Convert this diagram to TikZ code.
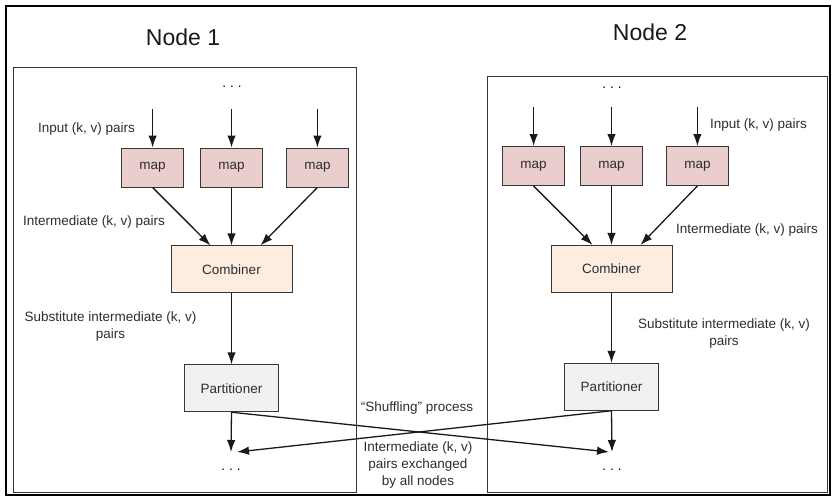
\documentclass[tikz,border=0pt]{standalone}
\usepackage{fontspec}
\setmainfont{Liberation Sans}
\usetikzlibrary{positioning,arrows.meta}

\definecolor{mapfill}{RGB}{234,205,205}
\definecolor{combfill}{RGB}{253,236,224}
\definecolor{partfill}{RGB}{241,241,241}
\definecolor{boxline}{RGB}{55,55,55}
\definecolor{txt}{RGB}{45,45,45}

\begin{document}
\begin{tikzpicture}[x=1pt, y=-1pt,
	box/.style={rectangle, draw=boxline, line width=0.9pt, inner sep=0pt, text=txt, font=\fontsize{13.5}{17}\selectfont},
	mapbox/.style={box, fill=mapfill, minimum width=62pt, minimum height=39pt},
	combbox/.style={box, fill=combfill, minimum width=121pt, minimum height=47pt},
	partbox/.style={box, fill=partfill, minimum width=94pt, minimum height=47pt},
	nodebox/.style={rectangle, draw=boxline, line width=0.9pt, inner sep=0pt},
	title/.style={font=\fontsize{23}{26}\selectfont, text=black!90, inner sep=0pt},
	lbl/.style={font=\fontsize{13.5}{17}\selectfont, text=txt, align=center, inner sep=0pt},
	dots/.style={font=\fontsize{13.5}{17}\selectfont, inner sep=0pt},
	arr/.style={-{Latex[length=12pt,width=8.5pt]}, line width=1.3pt, draw=black!90}
	]

	\useasboundingbox (0,0) rectangle (833,500);
	\draw [line width=2.5pt] (6,6) rectangle (830,495);

	% Node 1
	\node (node1box) [nodebox, minimum width=343pt, minimum height=425pt] at (184.5,279.5) {};
	\node (title1) [title] at (183,37) {Node 1};
	\node (dotstop1) [dots] at (232,87) {.\hspace{4pt}.\hspace{4pt}.};
		\node (map12) [mapbox] at (231.5,167.5) {map};
		\node (map11) [mapbox, left=16pt of map12] {map};
		\node (map13) [mapbox, right=23pt of map12] {map};
			\node (combiner1) [combbox, below=58pt of map12] {Combiner};
				\node (partitioner1) [partbox, below=71pt of combiner1] {Partitioner};
	\coordinate (out1) at (231,452);
	\node (dotsbot1) [dots] at (231,470) {.\hspace{4pt}.\hspace{4pt}.};

	\node (input1) [lbl, anchor=west] at (38,129) {Input (k, v) pairs};
	\node (inter1) [lbl, anchor=west] at (23,222) {Intermediate (k, v) pairs};
	\node (subst1) [lbl] at (110.5,326.5) {Substitute intermediate (k, v)\\pairs};

	% Node 2
	\node (node2box) [nodebox, minimum width=340pt, minimum height=416pt] at (657,284) {};
	\node (title2) [title] at (650,32) {Node 2};
	\node (dotstop2) [dots] at (612,88) {.\hspace{4pt}.\hspace{4pt}.};
		\node (map22) [mapbox] at (611.5,166) {map};
		\node (map21) [mapbox, left=15pt of map22] {map};
		\node (map23) [mapbox, right=23pt of map22] {map};
			\node (combiner2) [combbox, below=59pt of map22] {Combiner};
				\node (partitioner2) [partbox, below=70pt of combiner2] {Partitioner};
	\coordinate (out2) at (612,452);
	\node (dotsbot2) [dots] at (612,470) {.\hspace{4pt}.\hspace{4pt}.};

	\node (input2) [lbl, anchor=west] at (710,125) {Input (k, v) pairs};
	\node (inter2) [lbl, anchor=west] at (676,230) {Intermediate (k, v) pairs};
	\node (subst2) [lbl] at (724,334) {Substitute intermediate (k, v)\\pairs};

	% shuffle labels
	\node (shuffle) [lbl] at (417,408) {``Shuffling'' process};
	\node (exchanged) [lbl] at (418,465) {Intermediate (k, v)\\pairs exchanged\\by all nodes};

	\draw [arr] ([yshift=39pt]map11.north) -- (map11.north);
	\draw [arr] ([yshift=39pt]map12.north) -- (map12.north);
	\draw [arr] ([yshift=39pt]map13.north) -- (map13.north);
	\draw [arr] (map11.south) -- ([xshift=-21pt]combiner1.north);
	\draw [arr] (map12.south) -- (combiner1.north);
	\draw [arr] (map13.south) -- ([xshift=29pt]combiner1.north);
	\draw [arr] (combiner1.south) -- (partitioner1.north);
	\draw [arr] (partitioner1.south) -- (out1);

	\draw [arr] ([yshift=39pt]map21.north) -- (map21.north);
	\draw [arr] ([yshift=39pt]map22.north) -- (map22.north);
	\draw [arr] ([yshift=39pt]map23.north) -- (map23.north);
	\draw [arr] (map21.south) -- ([xshift=-19pt]combiner2.north);
	\draw [arr] (map22.south) -- (combiner2.north);
	\draw [arr] (map23.south) -- ([xshift=29pt]combiner2.north);
	\draw [arr] (combiner2.south) -- (partitioner2.north);
	\draw [arr] (partitioner2.south) -- (out2);

	\draw [arr] (partitioner1.south) -- ([xshift=-3pt]out2);
	\draw [arr] (partitioner2.south) -- ([xshift=6pt]out1);

	\end{tikzpicture}
\end{document}
